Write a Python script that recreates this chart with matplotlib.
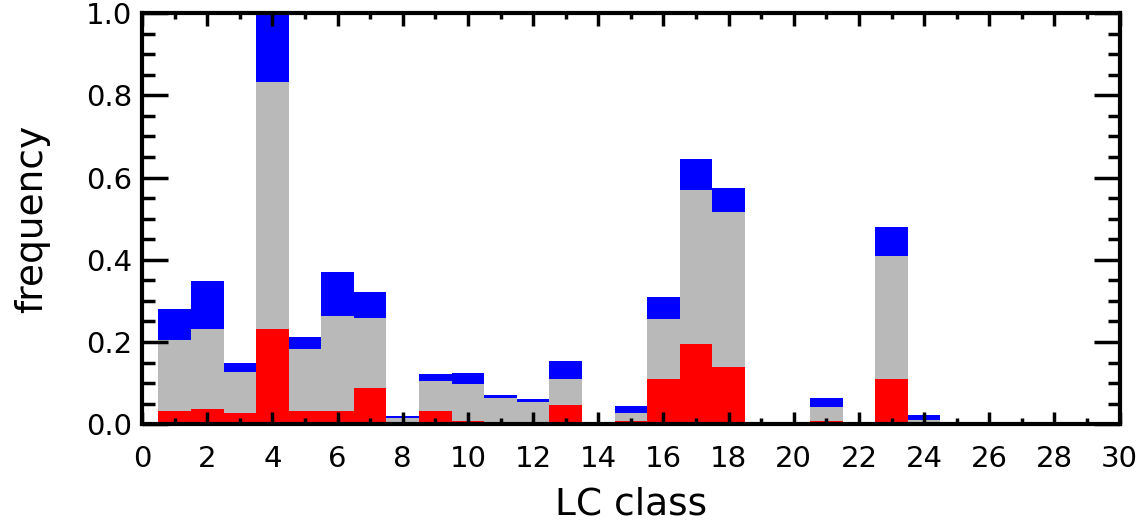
import matplotlib
matplotlib.use("Agg")
import matplotlib.pyplot as plt
from matplotlib.ticker import MultipleLocator

# LC class index and frequencies for the three nested samples
lc_class = list(range(1, 25))
freq_all = [0.281, 0.349, 0.148, 1.000, 0.213, 0.371, 0.322, 0.019,
            0.122, 0.124, 0.071, 0.061, 0.155, 0.000, 0.045, 0.310,
            0.645, 0.575, 0.000, 0.000, 0.064, 0.000, 0.481, 0.022]
freq_mid = [0.205, 0.231, 0.128, 0.832, 0.184, 0.263, 0.258, 0.016,
            0.104, 0.098, 0.063, 0.053, 0.109, 0.000, 0.028, 0.255,
            0.569, 0.517, 0.000, 0.000, 0.043, 0.000, 0.410, 0.010]
freq_sub = [0.031, 0.036, 0.027, 0.231, 0.033, 0.033, 0.088, 0.006,
            0.033, 0.008, 0.004, 0.003, 0.046, 0.000, 0.008, 0.110,
            0.196, 0.140, 0.000, 0.000, 0.008, 0.000, 0.110, 0.000]

xticks = list(range(0, 31, 2))
yticks = [0.0, 0.2, 0.4, 0.6, 0.8, 1.0]

plt.rcParams['font.family'] = ['DejaVu Sans']

fig = plt.figure(figsize=(11.46, 5.27), dpi=100)
ax = fig.add_axes([0.124, 0.195, 0.853, 0.780])

ax.bar(lc_class, freq_all, width=1.0, color='#0000ff', linewidth=0)
ax.bar(lc_class, freq_mid, width=1.0, color='#b9b9b9', linewidth=0)
ax.bar(lc_class, freq_sub, width=1.0, color='#ff0000', linewidth=0)

ax.set_xlim(0, 30)
ax.set_ylim(0, 1.0)
ax.set_xticks(xticks)
ax.set_xticklabels([str(t) for t in xticks])
ax.set_yticks(yticks)
ax.set_yticklabels([f"{t:.1f}" for t in yticks])
ax.xaxis.set_minor_locator(MultipleLocator(1))
ax.yaxis.set_minor_locator(MultipleLocator(0.05))

ax.tick_params(axis='both', which='both', direction='in', top=True, right=True,
               width=2.5, colors='black', labelsize=21)
ax.tick_params(axis='x', which='major', length=9, pad=15)
ax.tick_params(axis='x', which='minor', length=4.5)
ax.tick_params(axis='y', which='major', length=19, pad=7)
ax.tick_params(axis='y', which='minor', length=9)

for s in ax.spines.values():
    s.set_linewidth(3)

ax.set_xlabel("LC class", fontsize=27, labelpad=10)
ax.set_ylabel("frequency", fontsize=27, labelpad=26)

fig.savefig("out.png", dpi=100)
